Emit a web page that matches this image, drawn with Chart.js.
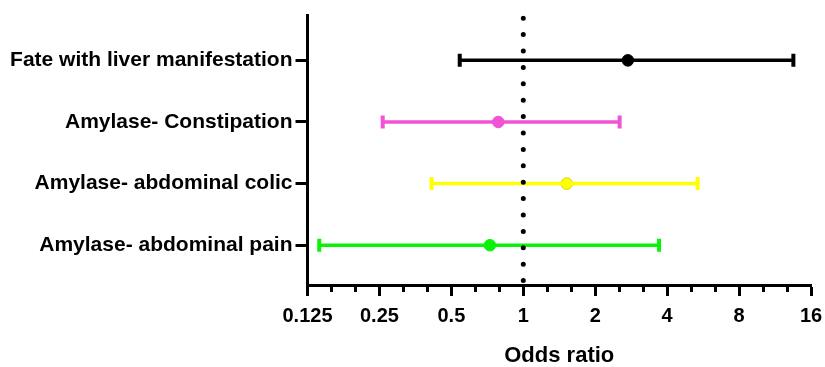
<!DOCTYPE html>
<html>
<head>
<meta charset="utf-8">
<script src="https://cdn.jsdelivr.net/npm/chart.js@4/dist/chart.umd.min.js"></script>
<style>
  body { margin: 0; background: #fff; }
  #wrap { width: 825px; height: 367px; }
</style>
</head>
<body>
<div id="wrap"><canvas id="forest"></canvas></div>
<script>
// rows, bottom to top
const categories = ['Amylase- abdominal pain', 'Amylase- abdominal colic', 'Amylase- Constipation', 'Fate with liver manifestation'];
const oddsRatio = [0.725, 1.52, 0.786, 2.74];
const lowerCI = [0.140, 0.413, 0.258, 0.542];
const upperCI = [3.70, 5.37, 2.53, 13.5];
const tickValues = [0.125, 0.25, 0.5, 1, 2, 4, 8, 16];
const tickLabels = ['0.125', '0.25', '0.5', '1', '2', '4', '8', '16'];
const refValue = 1;

const rowColors = ['#0AF20A', '#FFFF00', '#F252D6', '#000000'];
const pointBorders = ['#0AF20A', '#D8D800', '#F252D6', '#000000'];
const yMin = -0.645, yMax = 3.726;
const font = 'Arial, "Liberation Sans", sans-serif';

const datasets = [];

// dotted line at OR = 1
datasets.push({
  data: [{x: refValue, y: yMax}, {x: refValue, y: yMin}],
  showLine: true,
  borderColor: '#000',
  borderWidth: 5,
  borderDash: [0, 16.4],
  borderDashOffset: 13.8,
  borderCapStyle: 'round',
  pointRadius: 0
});

// confidence intervals
categories.forEach((c, i) => {
  datasets.push({
    data: [{x: lowerCI[i], y: i}, {x: upperCI[i], y: i}],
    showLine: true,
    borderColor: rowColors[i],
    borderWidth: 3.5,
    pointStyle: 'line',
    rotation: 90,
    pointRadius: 6.5,
    pointBorderWidth: 4,
    pointBorderColor: rowColors[i],
    pointBackgroundColor: rowColors[i]
  });
});

// point estimates
categories.forEach((c, i) => {
  datasets.push({
    data: [{x: oddsRatio[i], y: i}],
    pointRadius: 5.8,
    pointBorderWidth: 1,
    pointBackgroundColor: rowColors[i],
    pointBorderColor: pointBorders[i]
  });
});

const minorTicks = {
  id: 'minorTicks',
  afterDraw(chart) {
    const {ctx, scales: {x}, chartArea} = chart;
    ctx.save();
    ctx.strokeStyle = '#000';
    ctx.lineWidth = 3;
    for (let i = 0; i < tickValues.length - 1; i++) {
      [1 / 3, 2 / 3].forEach(f => {
        const v = tickValues[i] * Math.pow(tickValues[i + 1] / tickValues[i], f);
        const px = Math.round(x.getPixelForValue(v)) + 0.5;
        ctx.beginPath();
        ctx.moveTo(px, chartArea.bottom);
        ctx.lineTo(px, chartArea.bottom + 7);
        ctx.stroke();
      });
    }
    ctx.restore();
  }
};

new Chart(document.getElementById('forest'), {
  type: 'scatter',
  data: {datasets: datasets},
  options: {
    responsive: true,
    maintainAspectRatio: false,
    animation: false,
    layout: {padding: {top: 14, right: 14, left: 0, bottom: 0}},
    plugins: {legend: {display: false}, tooltip: {enabled: false}},
    scales: {
      x: {
        type: 'logarithmic',
        min: 0.125,
        max: 16,
        afterBuildTicks: s => { s.ticks = tickValues.map(v => ({value: v})); },
        afterFit: s => { s.height = 82; s.paddingRight = 0; s.paddingLeft = 0; },
        ticks: {
          callback: (v) => tickLabels[tickValues.indexOf(v)],
          color: '#000',
          font: {family: font, size: 20, weight: 'bold'},
          padding: 8,
          maxRotation: 0,
          autoSkip: false
        },
        grid: {drawOnChartArea: false, tickLength: 11, tickWidth: 3, tickColor: '#000'},
        border: {color: '#000', width: 3},
        title: {
          display: true,
          text: 'Odds ratio',
          color: '#000',
          font: {family: font, size: 22, weight: 'bold'},
          padding: {top: 8, bottom: -2}
        }
      },
      y: {
        type: 'linear',
        min: yMin,
        max: yMax,
        afterBuildTicks: s => { s.ticks = categories.map((c, i) => ({value: i})); },
        afterFit: s => { s.width = 307.5; },
        ticks: {
          callback: (v) => categories[v],
          color: '#000',
          font: {family: font, size: 21, weight: 'bold'},
          padding: 3
        },
        grid: {drawOnChartArea: false, tickLength: 12, tickWidth: 3, tickColor: '#000'},
        border: {color: '#000', width: 3}
      }
    }
  },
  plugins: [minorTicks]
});
</script>
</body>
</html>
